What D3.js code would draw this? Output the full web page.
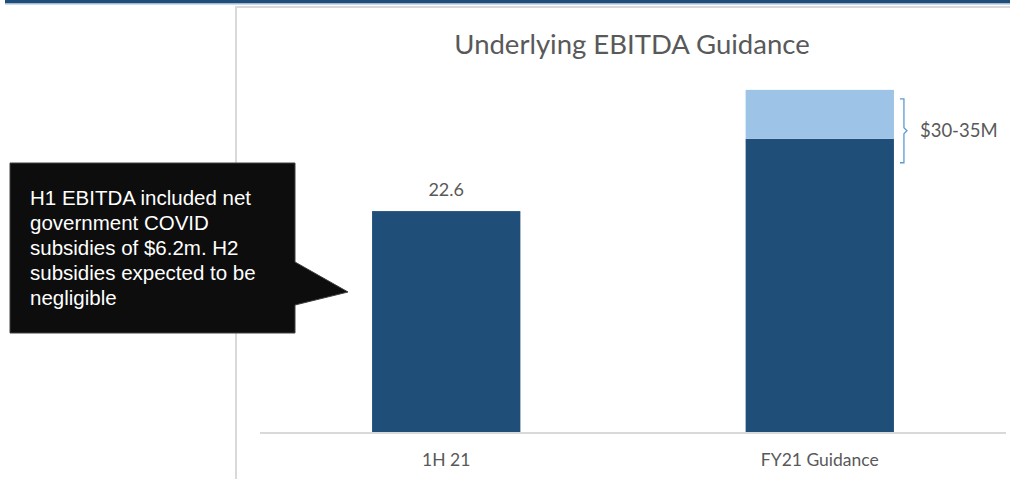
<!DOCTYPE html>
<html>
<head>
<meta charset="utf-8">
<script src="https://cdn.jsdelivr.net/npm/d3@7"></script>
<style>
  body { margin: 0; background: #fff; }
  svg { display: block; }
</style>
</head>
<body>
<script>
// chart data
const categories = ['1H 21', 'FY21 Guidance'];
const baseValues = [22.6, 30];
const rangeValues = [0, 5];
const valueLabels = ['22.6', null];
const rangeLabel = '$30-35M';
const noteLines = ['H1 EBITDA included net', 'government COVID', 'subsidies of $6.2m. H2', 'subsidies expected to be', 'negligible'];

const svgWidth = 1010;
const svgHeight = 479;
const darkBlue = '#1f4e79';
const lightBlue = '#9dc3e6';
const textGrey = '#595959';
const chartFont = 'Lato, "Open Sans", sans-serif';

const svg = d3.select('body')
              .append('svg')
              .attr('width', svgWidth)
              .attr('height', svgHeight);

// top banner stripe
svg.append('rect').attr('x', 5).attr('y', 0).attr('width', svgWidth - 5).attr('height', 3).attr('fill', darkBlue);
svg.append('rect').attr('x', 5).attr('y', 3).attr('width', svgWidth - 5).attr('height', 1.5).attr('fill', '#9fb8d6');

// chart frame
svg.append('path')
   .attr('d', 'M236,479 V7 H1010')
   .attr('fill', 'none')
   .attr('stroke', '#d9d9d9')
   .attr('stroke-width', 2);

// scales
const xScale = d3.scaleBand()
                 .domain(categories)
                 .range([260, 1006])
                 .paddingInner(0.603)
                 .paddingOuter(0.3);

const yScale = d3.scaleLinear()
                 .domain([0, 40])
                 .range([432, 41]);

// title
svg.append('text')
   .attr('x', 632)
   .attr('y', 54)
   .attr('text-anchor', 'middle')
   .style('font-family', chartFont)
   .style('font-size', '27.5px')
   .style('fill', textGrey)
   .text('Underlying EBITDA Guidance');

// base bars
svg.selectAll('rect.base')
   .data(categories)
   .enter()
   .append('rect')
   .attr('class', 'base')
   .attr('x', d => xScale(d))
   .attr('y', (d, i) => yScale(baseValues[i]))
   .attr('width', xScale.bandwidth())
   .attr('height', (d, i) => yScale(0) - yScale(baseValues[i]))
   .attr('fill', darkBlue);

// guidance range bars
svg.selectAll('rect.range')
   .data(categories)
   .enter()
   .append('rect')
   .attr('class', 'range')
   .attr('x', d => xScale(d))
   .attr('y', (d, i) => yScale(baseValues[i] + rangeValues[i]))
   .attr('width', xScale.bandwidth())
   .attr('height', (d, i) => yScale(baseValues[i]) - yScale(baseValues[i] + rangeValues[i]))
   .attr('fill', lightBlue);

// baseline
svg.append('line')
   .attr('x1', 260).attr('x2', 1006)
   .attr('y1', yScale(0) + 1).attr('y2', yScale(0) + 1)
   .attr('stroke', '#d9d9d9')
   .attr('stroke-width', 2);

// category labels
svg.selectAll('text.cat')
   .data(categories)
   .enter()
   .append('text')
   .attr('class', 'cat')
   .attr('x', d => xScale(d) + xScale.bandwidth() / 2)
   .attr('y', 466)
   .attr('text-anchor', 'middle')
   .style('font-family', chartFont)
   .style('font-size', '17.5px')
   .style('fill', textGrey)
   .text(d => d);

// value labels
svg.selectAll('text.val')
   .data(categories.filter((d, i) => valueLabels[i]))
   .enter()
   .append('text')
   .attr('class', 'val')
   .attr('x', d => xScale(d) + xScale.bandwidth() / 2)
   .attr('y', (d, i) => yScale(baseValues[categories.indexOf(d)]) - 15)
   .attr('text-anchor', 'middle')
   .style('font-family', chartFont)
   .style('font-size', '18px')
   .style('fill', textGrey)
   .text(d => valueLabels[categories.indexOf(d)]);

// brace for guidance range
const last = categories.length - 1;
const bx = xScale(categories[last]) + xScale.bandwidth() + 6;
const bTop = yScale(baseValues[last] + rangeValues[last]) + 9;
const bBot = yScale(baseValues[last]) + 24;
const bMid = (bTop + bBot) / 2;
svg.append('path')
   .attr('d', `M${bx},${bTop} h4 V${bMid - 3} l3,3 l-3,3 V${bBot} h-4`)
   .attr('fill', 'none')
   .attr('stroke', '#5b9bd5')
   .attr('stroke-width', 1.3);
svg.append('text')
   .attr('x', bx + 20)
   .attr('y', bMid + 6)
   .style('font-family', chartFont)
   .style('font-size', '18.5px')
   .style('fill', textGrey)
   .text(rangeLabel);

// callout box
svg.append('path')
   .attr('d', 'M10,163 H295 V262 L348,292 L295,305 V333 H10 Z')
   .attr('fill', '#0d0d0d')
   .attr('stroke', '#404040')
   .attr('stroke-width', 1);

svg.append('g')
   .selectAll('text')
   .data(noteLines)
   .enter()
   .append('text')
   .attr('x', 30)
   .attr('y', (d, i) => 205 + i * 25)
   .style('font-family', '"Liberation Sans", Arial, sans-serif')
   .style('font-size', '20.5px')
   .style('fill', '#ffffff')
   .text(d => d);
</script>
</body>
</html>
